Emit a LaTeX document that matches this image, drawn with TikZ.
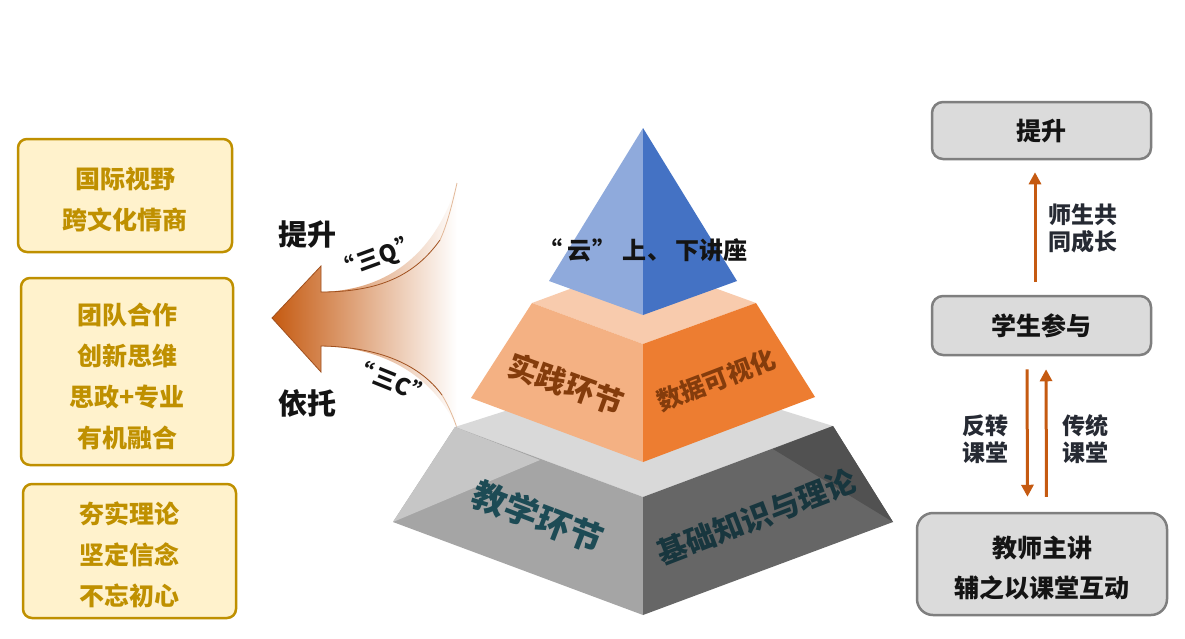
\documentclass[tikz,border=0pt]{standalone}
\usepackage{fontspec}
\setmainfont{Noto Sans CJK SC}
\usetikzlibrary{arrows.meta}
\definecolor{gold}{HTML}{BF9000}
\definecolor{goldfill}{HTML}{FFF2CC}
\definecolor{grayborder}{HTML}{7F7F7F}
\definecolor{grayfill}{HTML}{DBDBDB}
\definecolor{arrowor}{HTML}{C55A11}
\definecolor{darktxt}{HTML}{141414}
\definecolor{labeltxt}{HTML}{262A33}
\definecolor{brown}{HTML}{843C0C}
\definecolor{tealA}{HTML}{1D4B55}
\definecolor{tealB}{HTML}{18363E}
\definecolor{blueL}{HTML}{8FAADC}
\definecolor{blueR}{HTML}{4472C4}
\definecolor{peachTop}{HTML}{F8CBAD}
\definecolor{orL}{HTML}{F4B183}
\definecolor{orR}{HTML}{ED7D31}
\definecolor{grTop}{HTML}{D9D9D9}
\definecolor{grL}{HTML}{A5A5A5}
\definecolor{grLl}{HTML}{C6C6C6}
\definecolor{grR}{HTML}{666666}
\definecolor{grRd}{HTML}{515151}
\definecolor{arrowedge}{HTML}{A0501E}
\definecolor{arrowedgelight}{HTML}{E2B898}
\begin{document}
\begin{tikzpicture}[x=1pt,y=-1pt,
  goldbox/.style={draw=gold, line width=2.5pt, fill=goldfill, rounded corners=9pt, inner sep=0pt},
  goldtext/.style={text=gold, align=center, inner sep=0pt, font=\bfseries\fontsize{25}{41}\selectfont},
  graybox/.style={draw=grayborder, line width=2.5pt, fill=grayfill, rounded corners=11pt, inner sep=0pt},
  graytext/.style={text=darktxt, align=center, inner sep=0pt, font=\bfseries\fontsize{25}{40}\selectfont},
  flowarrow/.style={draw=arrowor, line width=3pt, -{Triangle[width=12pt,length=12pt]}},
  flowlabel/.style={text=labeltxt, align=center, font=\bfseries\fontsize{23}{27}\selectfont},
  facetext/.style={font=\bfseries\fontsize{#1}{#1}\selectfont, inner sep=0pt},
  sidetext/.style={text=darktxt, font=\bfseries\fontsize{29}{29}\selectfont, inner sep=0pt},
  quotetext/.style={text=darktxt, font=\bfseries\fontsize{23}{23}\selectfont, inner sep=0pt}
]
\useasboundingbox (0,0) rectangle (1185,638);
\fill[white] (0,0) rectangle (1185,638);

% ---------- left boxes ----------
\node[goldbox, minimum width=214pt, minimum height=113pt] (l1) at (125,195.5) {};
\node[goldtext] (l1t) at ([yshift=-4.5pt]l1.center) {国际视野\\跨文化情商};
\node[goldbox, minimum width=212pt, minimum height=187pt] (l2) at (127,371.5) {};
\node[goldtext] (l2t) at ([yshift=-5pt]l2.center) {团队合作\\创新思维\\思政+专业\\有机融合};
\node[goldbox, minimum width=213pt, minimum height=134pt] (l3) at (129.5,551) {};
\node[goldtext] (l3t) at ([yshift=-4pt]l3.center) {夯实理论\\坚定信念\\不忘初心};

% ---------- big gradient arrow ----------
\path[left color=arrowor, right color=white]
  (457,183) .. controls (440,240) and (400,290) .. (321,292)
  -- (321,266) -- (272,318) -- (321,372) -- (321,346)
  .. controls (400,348) and (440,390) .. (457,428) -- cycle;
\draw[arrowedge, line width=0.8pt]
  (440,240) .. controls (415,275) and (380,292) .. (321,292)
  -- (321,266) -- (272,318) -- (321,372) -- (321,346)
  .. controls (380,347) and (420,365) .. (442,395);
\draw[arrowedgelight, line width=0.8pt]
  (457,183) .. controls (452,205) and (447,225) .. (440,240);
\draw[arrowedgelight, line width=0.8pt]
  (442,395) .. controls (448,405) and (453,416) .. (457,428);
\node[sidetext] (up) at (307,234) {提升};
\node[sidetext] (base) at (307,403) {依托};
\node[quotetext, rotate=20] (q) at (377,258) {“\kern2pt三Q\kern1pt”};
\node[quotetext, rotate=-22] (c) at (392,381) {“\kern2pt三C\kern1pt”};

% ---------- pyramid: bottom frustum ----------
\fill[grTop] (455,427) -- (643,367) -- (833,426) -- (643,497) -- cycle;
\fill[grL] (455,427) -- (643,497) -- (643,615) -- (393,522) -- cycle;
\fill[grLl] (455,427) -- (540,460) -- (393,522) -- cycle;
\fill[grR] (643,497) -- (833,426) -- (893,522) -- (643,615) -- cycle;
\fill[grRd] (773,449) -- (833,426) -- (893,522) -- cycle;

% ---------- pyramid: middle frustum ----------
\fill[peachTop] (532,303) -- (643,262) -- (756,303) -- (643,344) -- cycle;
\fill[orL] (532,303) -- (643,344) -- (643,462) -- (471,398) -- cycle;
\fill[orR] (643,344) -- (756,303) -- (815,397) -- (643,462) -- cycle;

% ---------- pyramid: top ----------
\fill[blueL] (643,128) -- (643,315) -- (549,281) -- cycle;
\fill[blueR] (643,128) -- (737,281) -- (643,315) -- cycle;

% ---------- pyramid texts ----------
\node[facetext=24, text=darktxt] (cloud) at (643,250)
  {“\kern5pt云\kern1pt”\kern6pt上\kern1pt、\kern4pt下讲座};
\node[facetext=30, text=brown, rotate=-20] (prac) at (566,384) {实践环节};
\node[facetext=25, text=brown, rotate=21] (data) at (716,380) {数据可视化};
\node[facetext=34, text=tealA, rotate=-21] (teach) at (538,517) {教学环节};
\node[facetext=30, text=tealB, rotate=21] (basic) at (756,517) {基础知识与理论};

% ---------- right flow ----------
\node[graybox, minimum width=219pt, minimum height=57pt] (b1) at (1041.5,130.5) {};
\node[graytext] (b1t) at ([yshift=-0.5pt]b1.center) {提升};
\node[graybox, minimum width=219pt, minimum height=59pt] (b2) at (1041.5,325.5) {};
\node[graytext] (b2t) at (b2.center) {学生参与};
\node[graybox, rounded corners=16pt, minimum width=250pt, minimum height=102pt] (b3) at (1042,564) {};
\node[graytext] (b3t) at ([yshift=-4pt]b3.center) {教师主讲\\辅之以课堂互动};

\draw[flowarrow, shorten <=13pt, shorten >=12pt]
  ([xshift=-6.5pt]b2.north) -- ([xshift=-6.5pt]b1.south);
\draw[flowarrow, shorten <=13pt, shorten >=15pt]
  ([xshift=-14.5pt]b2.south) -- ([xshift=-14.5pt]b3.north);
\draw[flowarrow, shorten <=15pt, shorten >=13pt]
  ([xshift=4.5pt]b3.north) -- ([xshift=4.5pt]b2.south);

\node[flowlabel] (lab1) at (1083,228) {师生共\\同成长};
\node[flowlabel] (lab2) at (985,439) {反转\\课堂};
\node[flowlabel] (lab3) at (1085,439) {传统\\课堂};
\end{tikzpicture}
\end{document}
